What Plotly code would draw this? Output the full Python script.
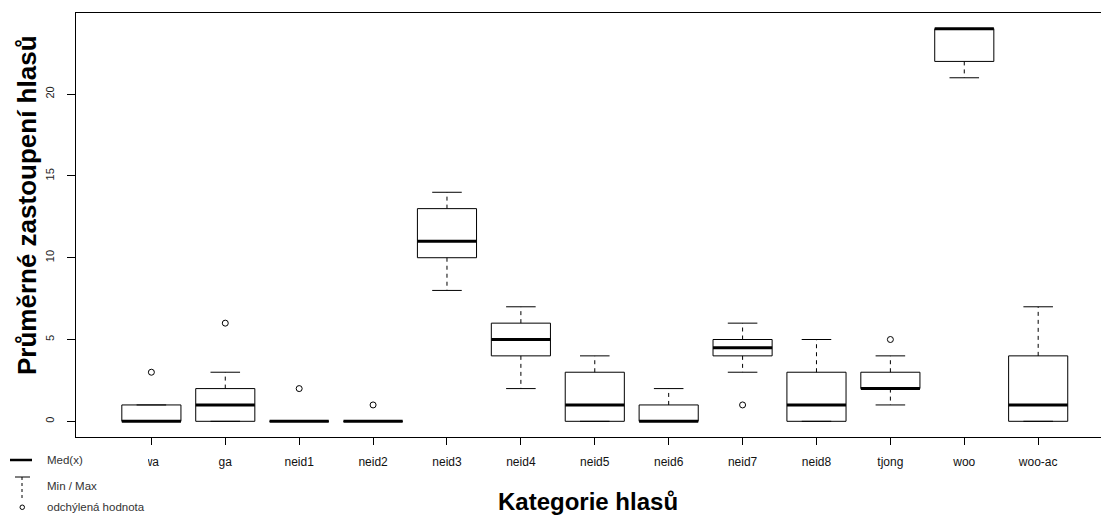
import plotly.graph_objects as go

categories = ["wa", "ga", "neid1", "neid2", "neid3", "neid4", "neid5",
              "neid6", "neid7", "neid8", "tjong", "woo", "woo-ac"]
mins    = [0, 0, 0, 0, 8, 2, 0, 0, 3.0, 0, 1, 21, 0]
q1s     = [0, 0, 0, 0, 10, 4, 0, 0, 4.0, 0, 2, 22, 0]
medians = [0, 1, 0, 0, 11, 5, 1, 0, 4.5, 1, 2, 24, 1]
q3s     = [1, 2, 0, 0, 13, 6, 3, 1, 5.0, 3, 3, 24, 4]
maxs    = [1, 3, 0, 0, 14, 7, 4, 2, 6.0, 5, 4, 24, 7]
outlier_cat = ["wa", "ga", "neid1", "neid2", "neid7", "tjong"]
outlier_val = [3, 6, 2, 1, 1, 5]
y_ticks = [0, 5, 10, 15, 20]

FONT = "Liberation Sans, Arial, sans-serif"
W, H = 1101, 515
L, R_, T, B = 76, 0, 13, 78
PW, PH = W - L - R_, H - T - B

def px(x):
    return (x - L) / PW

def py(y):
    return (H - B - y) / PH

half = 0.4
cap = 0.2
pos = list(range(1, len(categories) + 1))

bx, by, mx, my, wx, wy, cx, cy = [], [], [], [], [], [], [], []
for p, lo, a, m, b, hi in zip(pos, mins, q1s, medians, q3s, maxs):
    bx += [p - half, p + half, p + half, p - half, p - half, None]
    by += [a, a, b, b, a, None]
    mx += [p - half, p + half, None]
    my += [m, m, None]
    wx += [p, p, None, p, p, None]
    wy += [b, hi, None, a, lo, None]
    cx += [p - cap, p + cap, None, p - cap, p + cap, None]
    cy += [hi, hi, None, lo, lo, None]

ox = [categories.index(c) + 1 for c in outlier_cat]

fig = go.Figure()
fig.add_trace(go.Scatter(x=wx, y=wy, mode="lines", line=dict(color="black", width=1, dash="4px,4px"),
                         hoverinfo="skip", showlegend=False))
fig.add_trace(go.Scatter(x=cx, y=cy, mode="lines", line=dict(color="black", width=1),
                         hoverinfo="skip", showlegend=False))
fig.add_trace(go.Scatter(x=bx, y=by, mode="lines", line=dict(color="black", width=1),
                         hoverinfo="skip", showlegend=False))
fig.add_trace(go.Scatter(x=mx, y=my, mode="lines", line=dict(color="black", width=3),
                         hoverinfo="skip", showlegend=False))
fig.add_trace(go.Scatter(x=ox, y=outlier_val, mode="markers",
                         marker=dict(symbol="circle-open", size=6, color="black", line=dict(width=1)),
                         showlegend=False))

fig.update_layout(
    width=W, height=H,
    margin=dict(l=L, r=R_, t=T, b=B, pad=0),
    paper_bgcolor="white", plot_bgcolor="white",
    font=dict(family=FONT, color="black"),
    showlegend=False,
    xaxis=dict(range=[-0.02, 13.85], tickvals=pos, ticktext=categories,
               showgrid=False, zeroline=False, showline=True, linecolor="black", linewidth=1,
               mirror=True, ticks="outside", ticklen=7, tickcolor="black",
               tickfont=dict(size=12, family=FONT, color="#111"), ticklabelstandoff=7),
    yaxis=dict(range=[-0.96, 24.96], tickvals=y_ticks, ticktext=[str(v) for v in y_ticks],
               showgrid=False, zeroline=False, showline=True, linecolor="black", linewidth=1,
               mirror=False, ticks="outside", ticklen=8, tickcolor="black", tickangle=-90,
               tickfont=dict(size=11, family=FONT, color="#222"), ticklabelstandoff=9),
)

shapes = []
# white legend background (covers part of first label as in reference)
shapes.append(dict(type="rect", xref="paper", yref="paper", x0=px(0), x1=px(148), y0=py(447), y1=py(515),
                   fillcolor="white", line=dict(width=0), layer="above"))
shapes.append(dict(type="line", xref="paper", yref="paper", x0=px(10), x1=px(32), y0=py(460), y1=py(460),
                   line=dict(color="black", width=2.5), layer="above"))
shapes.append(dict(type="line", xref="paper", yref="paper", x0=px(15), x1=px(30), y0=py(477), y1=py(477),
                   line=dict(color="black", width=1), layer="above"))
shapes.append(dict(type="line", xref="paper", yref="paper", x0=px(22), x1=px(22), y0=py(477), y1=py(498),
                   line=dict(color="black", width=1, dash="3px,3px"), layer="above"))
shapes.append(dict(type="circle", xref="paper", yref="paper", x0=px(20), x1=px(24.5), y0=py(505), y1=py(509.5),
                   line=dict(color="black", width=1), layer="above"))
fig.update_layout(shapes=shapes)

ann = [
    dict(text="Med(x)", x=px(45), y=py(460)),
    dict(text="Min / Max", x=px(45), y=py(486)),
    dict(text="odchýlená hodnota", x=px(45), y=py(507)),
]
for a in ann:
    fig.add_annotation(xref="paper", yref="paper", x=a["x"], y=a["y"], text=a["text"], showarrow=False,
                       xanchor="left", yanchor="middle", font=dict(size=11.5, family=FONT, color="#333"))

fig.add_annotation(xref="paper", yref="paper", x=px(588), y=py(501), text="<b>Kategorie hlasů</b>",
                   showarrow=False, xanchor="center", yanchor="middle",
                   font=dict(size=24, family=FONT, color="black"))
fig.add_annotation(xref="paper", yref="paper", x=px(27), y=py(205), text="<b>Průměrné zastoupení hlasů</b>",
                   showarrow=False, xanchor="center", yanchor="middle", textangle=-90,
                   font=dict(size=26, family=FONT, color="black"))

fig.write_html("out.html")
